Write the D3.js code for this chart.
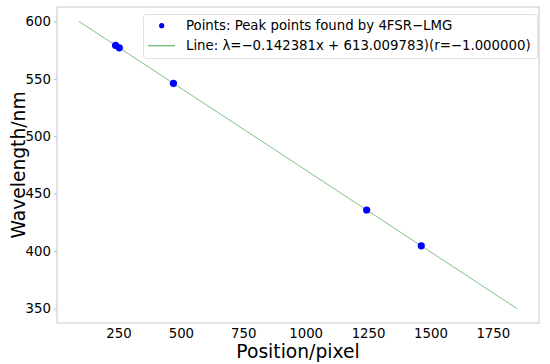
<!DOCTYPE html>
<html>
<head>
<meta charset="utf-8">
<script src="https://cdn.jsdelivr.net/npm/d3@7"></script>
<style>
  body { margin: 0; background: #fff; }
  text { font-family: "DejaVu Sans", sans-serif; fill: #000; }
</style>
</head>
<body>
<script>
// Hg lines located on the sensor
const peakPos = [238.4, 253.2, 470.1, 1244.4, 1463.3]
const peakWave = [579.07, 576.96, 546.07, 435.83, 404.66]
// fit line
const slope = -0.142381
const icept = 613.009783
const lineX = [91.4, 1847.2]
const xTicks = [250, 500, 750, 1000, 1250, 1500, 1750]
const yTicks = [350, 400, 450, 500, 550, 600]
const legendText = ["Points: Peak points found by 4FSR\u2212LMG",
                    "Line: \u03bb=\u22120.142381x + 613.009783)(r=\u22121.000000)"]

const W = 550, H = 364
const m = {l: 57, r: 11, t: 7, b: 41}

const svg = d3.select("body").append("svg")
    .attr("width", W).attr("height", H)

const x = d3.scaleLinear().domain([3.6, 1935]).range([m.l, W - m.r])
const y = d3.scaleLinear().domain([337.5, 612.5]).range([H - m.b, m.t])

const lineData = lineX.map(v => [v, slope * v + icept])

// axes
const xAxis = svg.append("g")
    .attr("transform", "translate(0," + (H - m.b) + ")")
    .call(d3.axisBottom(x).tickValues(xTicks).tickSize(0).tickPadding(6).tickFormat(d3.format("d")))
const yAxis = svg.append("g")
    .attr("transform", "translate(" + m.l + ",0)")
    .call(d3.axisLeft(y).tickValues(yTicks).tickSize(3).tickPadding(3).tickFormat(d3.format("d")))

for (const g of [xAxis, yAxis]) {
  g.select(".domain").remove()
  g.selectAll("line").attr("stroke", "#bbb")
  g.selectAll("text").style("font-size", "13.3px").attr("fill", "#000")
}

// frame
svg.append("rect")
    .attr("x", m.l).attr("y", m.t)
    .attr("width", W - m.l - m.r).attr("height", H - m.t - m.b)
    .attr("fill", "none").attr("stroke", "#c8c8c8").attr("stroke-width", 1)

// fit line
svg.append("path")
    .datum(lineData)
    .attr("d", d3.line().x(d => x(d[0])).y(d => y(d[1])))
    .attr("fill", "none")
    .attr("stroke", "#80c080")
    .attr("stroke-width", 1)

// peaks
svg.selectAll("circle.pk")
    .data(peakPos)
    .enter().append("circle")
    .attr("class", "pk")
    .attr("cx", d => x(d))
    .attr("cy", (d, i) => y(peakWave[i]))
    .attr("r", 3.6)
    .attr("fill", "#0000ff")

// legend
const lg = svg.append("g")
lg.append("rect")
    .attr("x", 143.5).attr("y", 14.5)
    .attr("width", 394).attr("height", 44)
    .attr("rx", 3)
    .attr("fill", "#fff").attr("fill-opacity", 0.8)
    .attr("stroke", "#e0e0e0")
lg.append("circle").attr("cx", 161.7).attr("cy", 25.7).attr("r", 2.6).attr("fill", "#0000ff")
lg.append("line").attr("x1", 148).attr("x2", 175).attr("y1", 45.7).attr("y2", 45.7)
    .attr("stroke", "#80c080").attr("stroke-width", 1.5)
lg.selectAll("text.lg")
    .data(legendText)
    .enter().append("text")
    .attr("class", "lg")
    .attr("x", 186)
    .attr("y", (d, i) => 25.7 + i * 20)
    .attr("dy", "0.35em")
    .style("font-size", "13.3px")
    .text(d => d)

// axis titles
svg.append("text")
    .attr("x", (m.l + W - m.r) / 2).attr("y", 358)
    .attr("text-anchor", "middle")
    .style("font-size", "18.7px")
    .text("Position/pixel")
svg.append("text")
    .attr("transform", "translate(25," + ((m.t + H - m.b) / 2) + ") rotate(-90)")
    .attr("text-anchor", "middle")
    .style("font-size", "18.7px")
    .text("Wavelength/nm")
</script>
</body>
</html>
